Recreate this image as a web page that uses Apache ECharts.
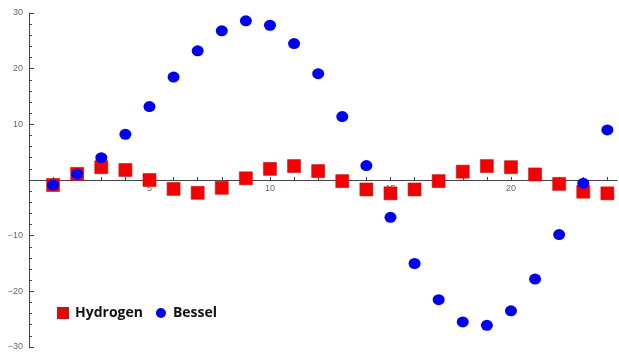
<!DOCTYPE html>
<html>
<head>
<meta charset="utf-8">
<script src="https://cdn.jsdelivr.net/npm/echarts@6/dist/echarts.min.js"></script>
<style>
  html, body { margin: 0; padding: 0; background: #fff; }
  #chart { width: 619px; height: 355px; }
</style>
</head>
<body>
<div id="chart"></div>
<script>
// Sample index n = 1..24
const nValues = [1, 2, 3, 4, 5, 6, 7, 8, 9, 10, 11, 12, 13, 14, 15, 16, 17, 18, 19, 20, 21, 22, 23, 24];
const hydrogen = [-0.9, 1.1, 2.3, 1.8, 0.0, -1.6, -2.3, -1.4, 0.3, 2.0, 2.5, 1.6, -0.2, -1.7, -2.4, -1.7, -0.2, 1.5, 2.5, 2.3, 1.0, -0.7, -2.1, -2.4];
const bessel = [-0.9, 1.1, 4.0, 8.2, 13.2, 18.5, 23.2, 26.8, 28.6, 27.8, 24.5, 19.1, 11.4, 2.6, -6.7, -15.0, -21.5, -25.5, -26.1, -23.5, -17.8, -9.8, -0.6, 9.0];
const xLabelTicks = [5, 10, 15, 20];
const yLabelTicks = [-30, -20, -10, 10, 20, 30];

const pairs = (ys) => nValues.map((n, i) => [n, ys[i]]);

const gridTop = 13, gridBottom = 8, chartHeight = 355;
// The horizontal axis sits at y = 0, the middle of the symmetric range.
const zeroOffset = -(chartHeight - gridTop - gridBottom) / 2;

const chart = echarts.init(document.getElementById('chart'), null, { renderer: 'canvas' });
chart.setOption({
  animation: false,
  backgroundColor: '#ffffff',
  grid: { left: 29, right: 2, top: gridTop, bottom: gridBottom },
  legend: {
    left: 52, top: 301,
    itemWidth: 10, itemHeight: 10, itemGap: 13,
    textStyle: { fontFamily: 'Open Sans', fontWeight: 'bold', fontSize: 14, color: '#111', padding: [0, 0, 0, 2] },
    data: [
      { name: 'Hydrogen', icon: 'rect' },
      { name: 'Bessel', icon: 'circle' }
    ]
  },
  xAxis: {
    type: 'value', min: 0, max: 24.4, interval: 1,
    position: 'bottom', offset: zeroOffset,
    axisLine: { onZero: false, lineStyle: { color: '#444', width: 1 } },
    axisTick: { inside: true, length: 3, lineStyle: { color: '#444' } },
    axisLabel: {
      fontSize: 9, color: '#666', margin: 4, showMaxLabel: false,
      formatter: (v) => xLabelTicks.includes(v) ? String(v) : ''
    },
    splitLine: { show: false }
  },
  yAxis: {
    type: 'value', min: -30, max: 30, interval: 10,
    axisLine: { show: true, onZero: false, lineStyle: { color: '#444', width: 1 } },
    axisTick: { show: true, inside: true, length: 5, lineStyle: { color: '#444' } },
    minorTick: { show: true, splitNumber: 5, length: 3, lineStyle: { color: '#444' } },
    axisLabel: {
      fontSize: 9, color: '#666', margin: 6,
      formatter: (v) => yLabelTicks.includes(v) ? String(v).replace('-', '\u2212') : ''
    },
    splitLine: { show: false }
  },
  series: [
    {
      name: 'Hydrogen', type: 'scatter', symbol: 'rect', symbolSize: 13,
      itemStyle: { color: '#f40000', borderColor: '#c01818', borderWidth: 0.6, opacity: 1 },
      data: pairs(hydrogen)
    },
    {
      name: 'Bessel', type: 'scatter', symbol: 'circle', symbolSize: [12, 11],
      itemStyle: { color: '#0000f0', opacity: 1 },
      data: pairs(bessel)
    }
  ]
});
</script>
</body>
</html>
